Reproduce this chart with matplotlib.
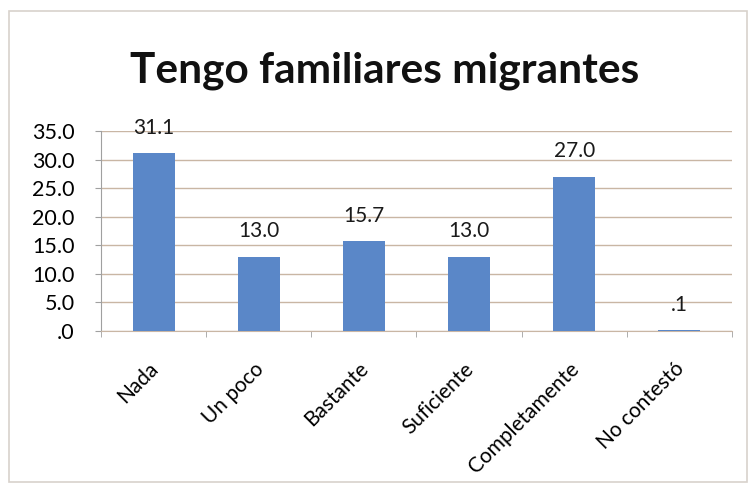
import matplotlib.pyplot as plt
from matplotlib.patches import Rectangle
from matplotlib.ticker import FuncFormatter
from matplotlib.transforms import ScaledTranslation

# Datos de la pregunta
categorias = ["Nada", "Un poco", "Bastante", "Suficiente", "Completamente", "No contestó"]
porcentajes = [31.1, 13.0, 15.7, 13.0, 27.0, 0.1]

plt.rcParams["font.family"] = ["Lato", "DejaVu Sans"]

fig = plt.figure(figsize=(7.55, 4.94), dpi=100)
ax = fig.add_axes([101 / 755, 1 - 331 / 494, 631 / 755, 200 / 494])

x = range(len(categorias))
ax.bar(x, porcentajes, width=0.4, color="#5a87c8", zorder=3)


def fmt(v):
    s = f"{v:.1f}"
    return s[1:] if s.startswith("0") else s


# Etiquetas de valor sobre cada barra
for xi, v in zip(x, porcentajes):
    ax.annotate(fmt(v), (xi, v), xytext=(0, 11), textcoords="offset points",
                ha="center", va="bottom", fontsize=15, color="#1a1a1a")

ax.set_xlim(-0.5, len(categorias) - 0.5)
ax.set_ylim(0, 35)
ax.set_yticks(range(0, 36, 5))
ax.yaxis.set_major_formatter(FuncFormatter(lambda v, p: fmt(v)))
ax.tick_params(axis="y", labelsize=15.5, length=4, color="#a0a0a0", pad=15)

ax.set_xticks(list(x))
ax.set_xticklabels(categorias, rotation=45, ha="right", rotation_mode="anchor", fontsize=15)
ax.tick_params(axis="x", length=0, pad=20)
shift = ScaledTranslation(-4 / 72, 0, fig.dpi_scale_trans)
for lbl in ax.get_xticklabels():
    lbl.set_transform(lbl.get_transform() + shift)
ax.set_xticks([i + 0.5 for i in range(-1, len(categorias))], minor=True)
ax.tick_params(axis="x", which="minor", length=4, color="#a0a0a0")

ax.grid(axis="y", color="#c9b6a4", linewidth=1, zorder=0)
for side in ["top", "right"]:
    ax.spines[side].set_visible(False)
ax.spines["left"].set_color("#a0a0a0")
ax.spines["bottom"].set_color("#c9b6a4")

fig.text(385 / 755, 1 - 71 / 494, "Tengo familiares migrantes", ha="center", va="center",
         fontsize=30.5, fontweight="bold", color="#111111")

# Marco del gráfico
fig.patches.append(Rectangle((9 / 755, 1 - 482 / 494), 738 / 755, 471 / 494,
                             transform=fig.transFigure, fill=False,
                             edgecolor="#d8d2cc", linewidth=1.2))

fig.savefig("out.png", dpi=100)
